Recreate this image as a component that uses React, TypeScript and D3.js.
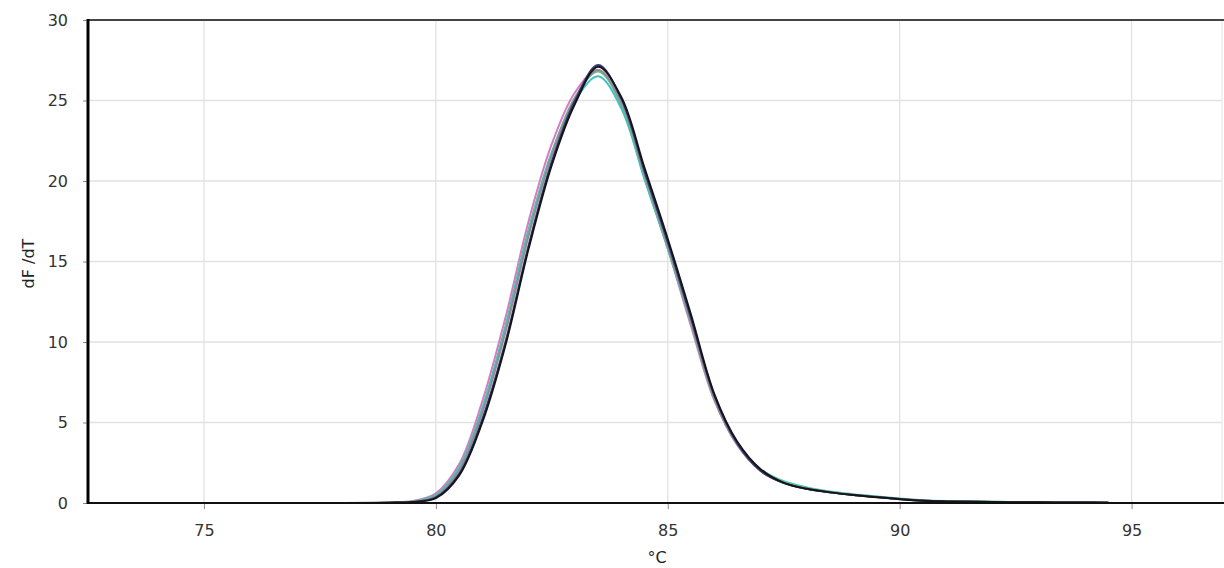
import {useEffect, useRef} from "react";
import * as d3 from "d3";

// temperatures (°C) shared by every melt curve
const temps = [72.5, 75, 78, 79, 79.5, 80, 80.5, 81, 81.5, 82, 82.5, 83, 83.5, 84, 84.5, 85,
    85.5, 86, 86.5, 87, 87.5, 88, 88.5, 89, 89.5, 90, 90.5, 91, 92, 93, 94, 94.5];

// dF/dT per well
const pinkWell = [0, 0, 0, 0.03, 0.12, 0.6, 2.4, 6.3, 11.5, 17.5, 22.3, 25.5, 26.9, 24.7, 20.2, 15.8,
    11.0, 6.4, 3.6, 2.0, 1.25, 0.88, 0.66, 0.5, 0.38, 0.25, 0.15, 0.1, 0.06, 0.04, 0.03, 0.02];
const cyanWell = [0, 0, 0, 0.02, 0.1, 0.5, 2.2, 5.9, 11.0, 17.0, 21.8, 25.0, 26.5, 24.5, 20.1, 15.8,
    11.2, 6.6, 3.7, 2.1, 1.35, 0.97, 0.72, 0.55, 0.41, 0.28, 0.17, 0.12, 0.08, 0.05, 0.04, 0.03];
const greenWell = [0, 0, 0, 0.02, 0.09, 0.45, 2.1, 5.7, 10.8, 16.8, 21.7, 25.2, 26.8, 24.8, 20.3, 15.9,
    11.2, 6.5, 3.7, 2.1, 1.3, 0.92, 0.68, 0.52, 0.39, 0.26, 0.16, 0.11, 0.07, 0.05, 0.04, 0.03];
const grayWell = [0, 0, 0, 0.02, 0.08, 0.4, 2.0, 5.6, 10.6, 16.6, 21.6, 25.1, 26.9, 24.9, 20.4, 16.0,
    11.3, 6.5, 3.6, 2.0, 1.25, 0.88, 0.66, 0.5, 0.38, 0.25, 0.15, 0.1, 0.06, 0.04, 0.03, 0.02];
const blueWell = [0, 0, 0, 0.02, 0.07, 0.35, 1.8, 5.2, 10.0, 16.0, 21.2, 25.0, 27.2, 25.1, 20.6, 16.2,
    11.5, 6.7, 3.7, 2.0, 1.25, 0.88, 0.66, 0.5, 0.37, 0.25, 0.15, 0.1, 0.06, 0.04, 0.03, 0.02];
const blackWell = [0, 0, 0, 0.02, 0.06, 0.3, 1.7, 5.0, 9.8, 15.8, 21.0, 24.8, 27.1, 25.2, 20.8, 16.4,
    11.7, 6.8, 3.8, 2.1, 1.25, 0.88, 0.66, 0.49, 0.35, 0.23, 0.14, 0.1, 0.06, 0.04, 0.03, 0.02];

const wells = [pinkWell, cyanWell, greenWell, grayWell, blueWell, blackWell];
const wellColors = ["#d47cc4", "#3cc4c4", "#78b878", "#8c8ca0", "#3a3a7a", "#151515"];

const xTicks = [75, 80, 85, 90, 95];
const yTicks = [0, 5, 10, 15, 20, 25, 30];

function MeltChart() {
    const ref = useRef(null);

    useEffect(() => {
        const svg = d3.select(ref.current);
        svg.selectAll("*").remove();

        const left = 88, right = 1222, top = 20, bottom = 503;
        const font = "'DejaVu Sans', sans-serif";

        const x = d3.scaleLinear().domain([72.5, 96.95]).range([left, right]);
        const y = d3.scaleLinear().domain([0, 30]).range([bottom, top]);

        // grid
        svg.append("g").selectAll("line").data(xTicks).enter().append("line")
            .attr("x1", d => x(d)).attr("x2", d => x(d))
            .attr("y1", top).attr("y2", bottom)
            .attr("stroke", "#e2e2e2").attr("stroke-width", 1.3);
        svg.append("g").selectAll("line").data(yTicks).enter().append("line")
            .attr("x1", left).attr("x2", right)
            .attr("y1", d => y(d)).attr("y2", d => y(d))
            .attr("stroke", "#e2e2e2").attr("stroke-width", 1.3);
        svg.append("line")
            .attr("x1", right).attr("x2", right).attr("y1", top).attr("y2", bottom)
            .attr("stroke", "#e6e6e6");

        // axes
        const xAxis = svg.append("g").attr("transform", `translate(0,${bottom})`)
            .call(d3.axisBottom(x).tickValues(xTicks).tickSize(6).tickPadding(16));
        const yAxis = svg.append("g").attr("transform", `translate(${left},0)`)
            .call(d3.axisLeft(y).tickValues(yTicks).tickSize(5).tickPadding(15));
        [xAxis, yAxis].forEach(a => {
            a.select(".domain").remove();
            a.selectAll("line").attr("stroke", "#888");
            a.selectAll("text").attr("font-family", font).attr("font-size", 16).attr("fill", "#333");
        });

        // curves
        const line = d3.line()
            .x((d, i) => x(temps[i]))
            .y(d => y(d))
            .curve(d3.curveCatmullRom.alpha(0.5));
        svg.append("g").selectAll("path").data(wells).enter().append("path")
            .attr("d", d => line(d))
            .attr("fill", "none")
            .attr("stroke", (d, i) => wellColors[i])
            .attr("stroke-width", 2);

        // frame
        svg.append("line").attr("x1", left).attr("x2", right + 2).attr("y1", top).attr("y2", top)
            .attr("stroke", "#444").attr("stroke-width", 2);
        svg.append("line").attr("x1", left).attr("x2", right + 2).attr("y1", bottom).attr("y2", bottom)
            .attr("stroke", "#111").attr("stroke-width", 2);
        svg.append("line").attr("x1", left).attr("x2", left).attr("y1", top - 1).attr("y2", bottom + 1)
            .attr("stroke", "#000").attr("stroke-width", 3);

        // titles
        svg.append("text")
            .attr("transform", `translate(34,${(top + bottom) / 2 + 2}) rotate(-90)`)
            .attr("text-anchor", "middle")
            .attr("font-family", font).attr("font-size", 16).attr("fill", "#222")
            .text("dF /dT");
        svg.append("text")
            .attr("x", 657).attr("y", 563)
            .attr("text-anchor", "middle")
            .attr("font-family", font).attr("font-size", 16).attr("fill", "#222")
            .text("°C");
    }, []);

    return <svg ref={ref} width={1224} height={568} style={{position: "absolute", left: 0, top: 0, background: "#fff"}}></svg>
}

export default function App() {
    return <MeltChart/>;
}
